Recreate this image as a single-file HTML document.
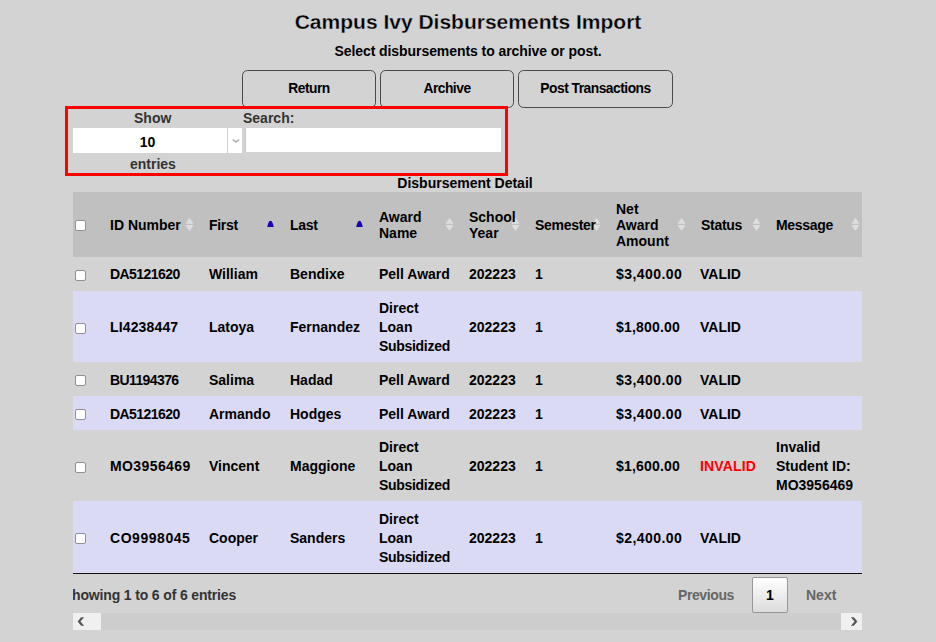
<!DOCTYPE html>
<html>
<head>
<meta charset="utf-8">
<style>
html,body{margin:0;padding:0;}
body{width:936px;height:642px;overflow:hidden;background:#d3d3d3;font-family:"Liberation Sans",sans-serif;font-weight:bold;color:#000;position:relative;}
.abs{position:absolute;white-space:nowrap;}
#title{left:0;width:936px;text-align:center;top:10px;font-size:21px;line-height:24px;-webkit-text-stroke:0.3px #d3d3d3;}
#sub{left:0;width:936px;text-align:center;top:43px;font-size:14px;line-height:16px;letter-spacing:-0.07px;}
.btn{position:absolute;top:70px;height:36px;border:1px solid #4a4a4a;border-radius:5.5px;background:#d3d3d3;font-size:13.8px;letter-spacing:-0.5px;line-height:36px;text-align:center;box-sizing:content-box;}
#redbox{left:65px;top:106px;width:437px;height:64px;border:3px solid #ff0000;}
.lbl{color:#333;font-size:14px;line-height:16px;}
#sel{left:73px;top:128px;width:169px;height:25px;background:#fff;}
#sel .sep{position:absolute;left:154px;top:0;width:1px;height:25px;background:#d0d0d0;}
#sel .val{position:absolute;left:0;width:149px;text-align:center;top:6px;font-size:14px;line-height:16px;}
#inp{left:245px;top:128px;width:256px;height:24px;background:#fff;}
#inp .lb{position:absolute;left:0;top:0;width:1px;height:24px;background:#c8c8c8;}
#caption{left:65px;width:800px;text-align:center;top:175px;font-size:14px;line-height:16px;}
#clip{position:absolute;left:73px;top:192px;width:789px;height:450px;overflow:hidden;}
table{position:absolute;left:-8px;top:0;width:800px;table-layout:fixed;border-collapse:collapse;border-spacing:0;font-size:14px;}
th,td{padding:0 10px;vertical-align:middle;text-align:left;font-weight:bold;white-space:nowrap;}
thead th{background:#c0c0c0;height:65px;line-height:16px;padding-right:18px;position:relative;z-index:0;}
tbody td{line-height:19px;}
tr.e td{background:#dadaf5;}
td.id{letter-spacing:-0.55px;}
td.am{letter-spacing:0.45px;}
tr.t td{padding-top:2px;}
tr.d td{padding-top:2px;}
tr.d2 td{padding-top:4px;}
tr.t td.c,tr.d td.c{padding-top:0;}
tbody tr.last td{border-bottom:1px solid #111;}
.cb{display:inline-block;position:relative;top:1px;width:9px;height:9px;border:1px solid #8f8f9d;border-radius:2px;background:#fff;vertical-align:middle;}
td.c,th.c{padding:0 0 0 10px;}
.si{position:absolute;right:0;top:23px;width:19px;height:19px;z-index:-1;}
</style>
</head>
<body>
<div id="title" class="abs">Campus Ivy Disbursements Import</div>
<div id="sub" class="abs">Select disbursements to archive or post.</div>
<div class="btn" style="left:242px;width:132px;">Return</div>
<div class="btn" style="left:380px;width:132px;">Archive</div>
<div class="btn" style="left:518px;width:153px;">Post Transactions</div>

<div id="redbox" class="abs"></div>
<div class="abs lbl" style="left:134px;top:110px;">Show</div>
<div id="sel" class="abs"><div class="val">10</div><div class="sep"></div>
<svg style="position:absolute;left:159px;top:10px" width="8" height="6" viewBox="0 0 8 6"><path d="M0.7 1.6 L3.9 4 L7.1 1.6" fill="none" stroke="#b4b4b4" stroke-width="1.6"/></svg></div>
<div class="abs lbl" style="left:130px;top:156px;">entries</div>
<div class="abs lbl" style="left:243px;top:110px;">Search:</div>
<div id="inp" class="abs"><div class="lb"></div></div>

<div id="caption" class="abs">Disbursement Detail</div>

<div id="clip">
<table>
<colgroup><col style="width:35px"><col style="width:99px"><col style="width:81px"><col style="width:89px"><col style="width:90px"><col style="width:66px"><col style="width:81px"><col style="width:85px"><col style="width:75px"><col style="width:99px"></colgroup>
<thead><tr>
<th class="c"><span class="cb" style="top:0"></span></th>
<th>ID Number<svg class="si" width="19" height="19" viewBox="0 0 19 19"><path d="M5.5 8.8 L9.5 2.8 L13.5 8.8 Z M5.5 9.9 L13.5 9.9 L9.5 15.9 Z" fill="#dedede"/></svg></th>
<th style="letter-spacing:-0.3px">First<svg class="si" width="19" height="19" viewBox="0 0 19 19"><path d="M6.2 12.1 C6.8 9.2 7.9 5.7 9.5 5.7 C11.1 5.7 12.2 9.2 12.8 12.1 Z" fill="#1605b0"/></svg></th>
<th style="letter-spacing:-0.3px">Last<svg class="si" width="19" height="19" viewBox="0 0 19 19"><path d="M6.2 12.1 C6.8 9.2 7.9 5.7 9.5 5.7 C11.1 5.7 12.2 9.2 12.8 12.1 Z" fill="#1605b0"/></svg></th>
<th>Award<br>Name<svg class="si" width="19" height="19" viewBox="0 0 19 19"><path d="M5.5 8.8 L9.5 2.8 L13.5 8.8 Z M5.5 9.9 L13.5 9.9 L9.5 15.9 Z" fill="#dedede"/></svg></th>
<th>School<br>Year<svg class="si" width="19" height="19" viewBox="0 0 19 19"><path d="M5.5 8.8 L9.5 2.8 L13.5 8.8 Z M5.5 9.9 L13.5 9.9 L9.5 15.9 Z" fill="#dedede"/></svg></th>
<th style="letter-spacing:-0.3px">Semester<svg class="si" width="19" height="19" viewBox="0 0 19 19"><path d="M5.5 8.8 L9.5 2.8 L13.5 8.8 Z M5.5 9.9 L13.5 9.9 L9.5 15.9 Z" fill="#dedede"/></svg></th>
<th>Net<br>Award<br>Amount<svg class="si" width="19" height="19" viewBox="0 0 19 19"><path d="M5.5 8.8 L9.5 2.8 L13.5 8.8 Z M5.5 9.9 L13.5 9.9 L9.5 15.9 Z" fill="#dedede"/></svg></th>
<th style="letter-spacing:-0.3px">Status<svg class="si" width="19" height="19" viewBox="0 0 19 19"><path d="M5.5 8.8 L9.5 2.8 L13.5 8.8 Z M5.5 9.9 L13.5 9.9 L9.5 15.9 Z" fill="#dedede"/></svg></th>
<th style="letter-spacing:-0.3px">Message<svg class="si" width="19" height="19" viewBox="0 0 19 19"><path d="M5.5 8.8 L9.5 2.8 L13.5 8.8 Z M5.5 9.9 L13.5 9.9 L9.5 15.9 Z" fill="#dedede"/></svg></th>
</tr></thead>
<tbody>
<tr style="height:34px"><td class="c"><span class="cb"></span></td><td style="letter-spacing:-0.55px">DA5121620</td><td>William</td><td>Bendixe</td><td>Pell Award</td><td>202223</td><td>1</td><td class="am">$3,400.00</td><td style="padding-left:9px">VALID</td><td></td></tr>
<tr class="e t" style="height:71px"><td class="c"><span class="cb"></span></td><td style="letter-spacing:0.15px">LI4238447</td><td>Latoya</td><td>Fernandez</td><td>Direct<br>Loan<br><span style="letter-spacing:-0.3px">Subsidized</span></td><td>202223</td><td>1</td><td class="am" style="letter-spacing:0.2px">$1,800.00</td><td style="padding-left:9px">VALID</td><td></td></tr>
<tr class="d" style="height:34px"><td class="c"><span class="cb"></span></td><td style="letter-spacing:-0.6px">BU1194376</td><td>Salima</td><td>Hadad</td><td>Pell Award</td><td>202223</td><td>1</td><td class="am">$3,400.00</td><td style="padding-left:9px">VALID</td><td></td></tr>
<tr class="e d" style="height:34px"><td class="c"><span class="cb"></span></td><td style="letter-spacing:-0.55px">DA5121620</td><td>Armando</td><td>Hodges</td><td>Pell Award</td><td>202223</td><td>1</td><td class="am">$3,400.00</td><td style="padding-left:9px">VALID</td><td></td></tr>
<tr class="t" style="height:71px"><td class="c"><span class="cb"></span></td><td style="letter-spacing:0.4px">MO3956469</td><td>Vincent</td><td>Maggione</td><td>Direct<br>Loan<br><span style="letter-spacing:-0.3px">Subsidized</span></td><td>202223</td><td>1</td><td class="am" style="letter-spacing:0.2px">$1,600.00</td><td style="color:#ff0000;letter-spacing:0.15px;padding-left:9px">INVALID</td><td>Invalid<br>Student ID:<br>MO3956469</td></tr>
<tr class="e last t d2" style="height:72px"><td class="c"><span class="cb"></span></td><td style="letter-spacing:0.55px">CO9998045</td><td>Cooper</td><td>Sanders</td><td>Direct<br>Loan<br><span style="letter-spacing:-0.3px">Subsidized</span></td><td>202223</td><td>1</td><td class="am">$2,400.00</td><td style="padding-left:9px">VALID</td><td></td></tr>
</tbody>
</table>
<div class="abs lbl" style="left:-1px;top:395px;letter-spacing:-0.15px;">howing 1 to 6 of 6 entries</div>
</div>

<div class="abs" style="left:678px;top:587px;font-size:14px;line-height:16px;color:#666;letter-spacing:-0.4px;">Previous</div>
<div class="abs" style="left:752px;top:577px;width:34px;height:34px;border:1px solid #979797;border-radius:2px;background:linear-gradient(#fff,#dcdcdc);font-size:14px;line-height:34px;text-align:center;">1</div>
<div class="abs" style="left:806px;top:587px;font-size:14px;line-height:16px;color:#666;">Next</div>

<div class="abs" style="left:73px;top:613px;width:789px;height:17px;background:#cdcdcd;"></div>
<div class="abs" style="left:73px;top:613px;width:28px;height:17px;background:#f0f0f0;"><svg width="28" height="17" viewBox="0 0 28 17" style="display:block"><path d="M8.2 4.2 L11.1 4.2 L7.5 8.5 L11.1 12.8 L8.2 12.8 L4.6 8.5 Z" fill="#555"/></svg></div>
<div class="abs" style="left:841px;top:613px;width:21px;height:17px;background:#f0f0f0;"><svg width="21" height="17" viewBox="0 0 21 17" style="display:block"><path d="M12.8 4.2 L9.9 4.2 L13.5 8.5 L9.9 12.8 L12.8 12.8 L16.4 8.5 Z" fill="#555"/></svg></div>
</body>
</html>
